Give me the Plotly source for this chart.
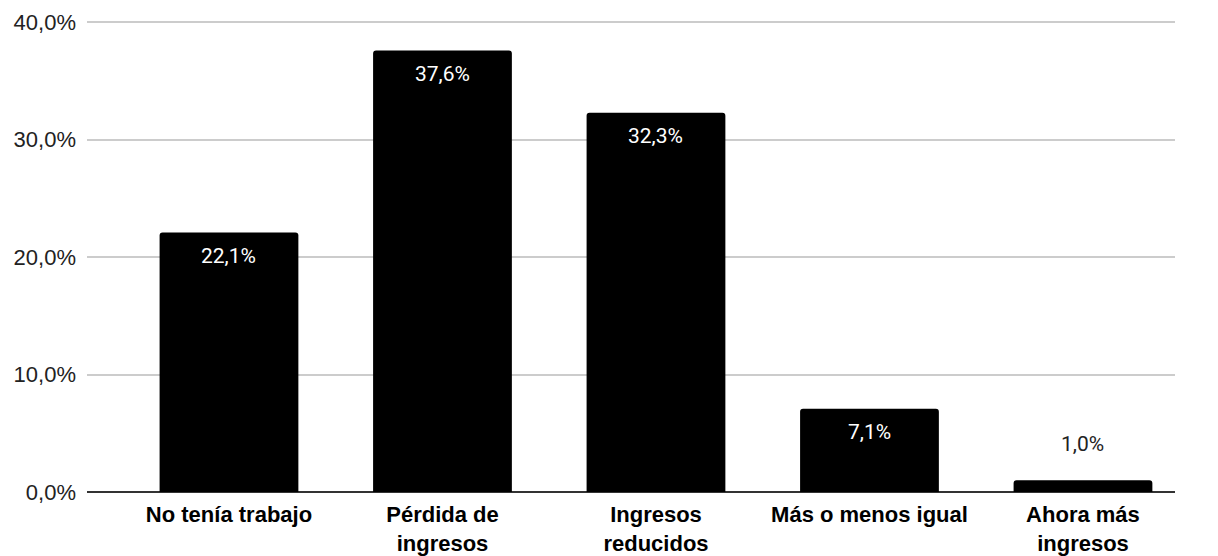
import plotly.graph_objects as go

categories = ["No tenía trabajo", "Pérdida de<br>ingresos", "Ingresos<br>reducidos",
              "Más o menos igual", "Ahora más<br>ingresos"]
values = [22.1, 37.6, 32.3, 7.1, 1.0]
labels = ["22,1%", "37,6%", "32,3%", "7,1%", "1,0%"]
y_ticks = [0, 10, 20, 30, 40]
y_tick_labels = ["0,0%", "10,0%", "20,0%", "30,0%", "40,0%"]

fig = go.Figure()
fig.add_trace(go.Bar(
    x=list(range(len(categories))), y=values,
    marker=dict(color="#000000", cornerradius=3, line=dict(width=0)),
    width=0.65, hoverinfo="skip",
))

annotations = []
for i, (v, t) in enumerate(zip(values, labels)):
    inside = v > 5
    annotations.append(dict(
        x=i, y=v, xref="x", yref="y", text=t, showarrow=False,
        yanchor="top" if inside else "bottom",
        yshift=-9 if inside else 22,
        font=dict(family="Roboto", size=21, color="#ffffff" if inside else "#222222"),
    ))

fig.update_layout(
    width=1218, height=556,
    margin=dict(l=79, r=51, t=12, b=72, autoexpand=False),
    paper_bgcolor="white", plot_bgcolor="white",
    showlegend=False, bargap=0.35,
    annotations=annotations,
    xaxis=dict(
        tickmode="array", tickvals=list(range(len(categories))), ticktext=categories,
        range=[-0.665, 4.431], showgrid=False, zeroline=False, showline=False,
        tickfont=dict(family="Liberation Sans, Arial", size=22, color="#000000", weight="bold"),
        ticks="", ticklabelstandoff=7, automargin=False,
    ),
    yaxis=dict(
        range=[0, 40.2], tickvals=y_ticks, ticktext=y_tick_labels,
        showgrid=True, gridcolor="#cccccc", gridwidth=1.5,
        zeroline=True, zerolinecolor="#333333", zerolinewidth=1.5,
        tickfont=dict(family="Liberation Sans, Arial", size=22, color="#222222"),
        ticks="", ticklabelstandoff=10, automargin=False,
    ),
)

fig.write_html("out.html")
